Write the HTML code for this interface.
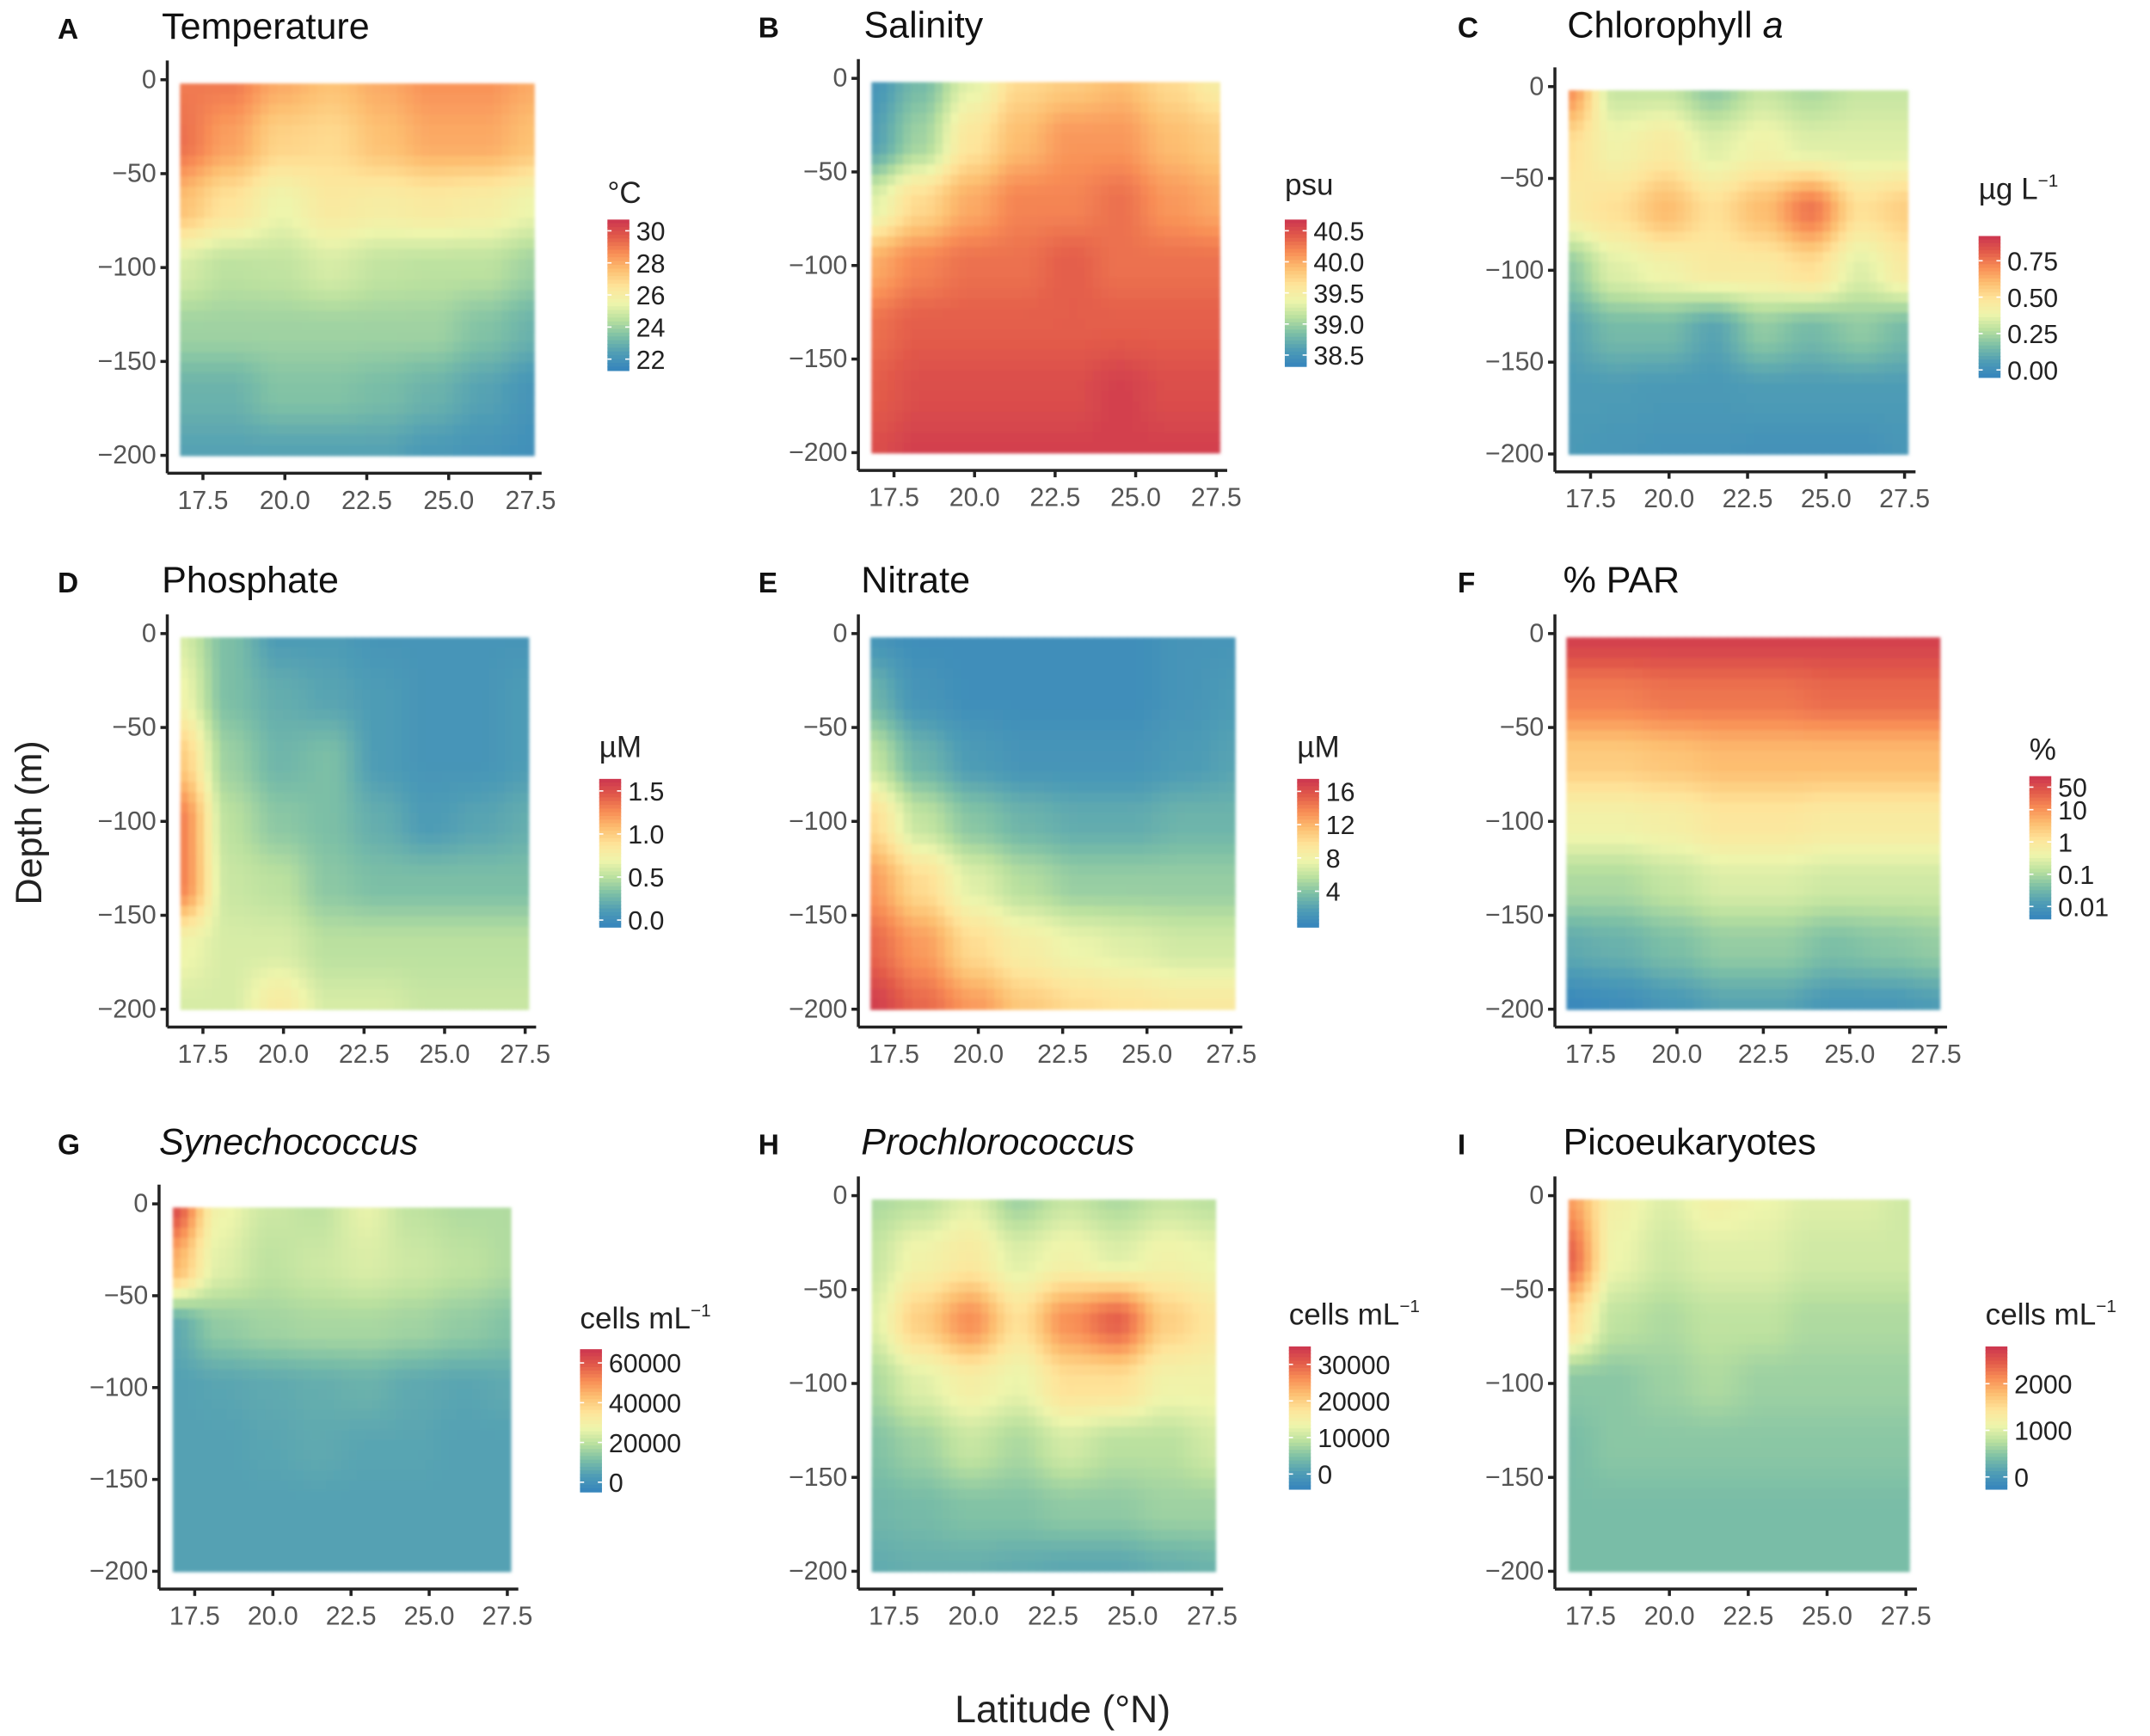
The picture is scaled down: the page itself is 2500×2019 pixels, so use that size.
<!DOCTYPE html>
<html><head><meta charset="utf-8"><style>
html,body{margin:0;padding:0;background:#fff}
svg{display:block}
text{font-family:"Liberation Sans",Arial,sans-serif}
</style></head><body>
<svg id="fig" width="2500" height="2019" viewBox="0 0 1568 1266" xmlns="http://www.w3.org/2000/svg">
<defs><filter id="blur" x="-5%" y="-5%" width="110%" height="110%"><feGaussianBlur stdDeviation="1.2"/></filter></defs>
<text x="30" y="600" font-size="27" fill="#222" text-anchor="middle" transform="rotate(-90 30 600)">Depth (m)</text>
<text x="775" y="1256" font-size="28" fill="#222" text-anchor="middle">Latitude (°N)</text>
</svg>
<script>
// shared grid
const lats = [16.8,18.3,19.9,21.4,23.0,24.5,26.1,27.6];
const depths = [0,-33,-67,-100,-133,-167,-200];
const latTicks = [17.5,20.0,22.5,25.0,27.5];
const depthTicks = [0,-50,-100,-150,-200];

const tempVals = [
[29,29,28,27.5,28,28.5,28.5,28],
[29.2,28.2,27,26.8,27.5,28,28,27.5],
[27.5,26.5,25.5,26.2,26,26.2,26,25.5],
[25,24.5,24.6,25,24.6,24.5,24.5,24],
[24,24,24,24,24,24,23.5,23],
[23,23,23.5,23.5,23.3,23,22.5,22],
[22.5,22.5,22.5,22.5,22.5,22.2,22,21.8]];
const salVals = [
[38.5,38.8,39.3,39.7,39.8,39.9,39.7,39.5],
[38.6,39.0,39.6,39.9,40.1,40.1,39.9,39.8],
[39.3,39.7,40.0,40.2,40.2,40.3,40.1,40.0],
[40.0,40.2,40.3,40.3,40.4,40.3,40.3,40.3],
[40.3,40.4,40.4,40.4,40.4,40.4,40.4,40.4],
[40.4,40.5,40.5,40.5,40.5,40.6,40.5,40.5],
[40.5,40.6,40.6,40.6,40.6,40.6,40.6,40.6]];
const chlVals = [
[0.7,0.3,0.3,0.2,0.3,0.25,0.3,0.3],
[0.5,0.4,0.45,0.35,0.4,0.35,0.35,0.35],
[0.45,0.5,0.6,0.5,0.6,0.75,0.5,0.55],
[0.2,0.35,0.4,0.45,0.45,0.5,0.35,0.45],
[0.08,0.15,0.15,0.08,0.2,0.15,0.2,0.15],
[0.05,0.05,0.04,0.04,0.05,0.05,0.05,0.05],
[0.04,0.03,0.02,0.02,0.01,0.01,0.01,0.03]];
const phoVals = [
[0.6,0.3,0.1,0.1,0.05,0.05,0.05,0.05],
[0.7,0.3,0.2,0.15,0.1,0.05,0.05,0.1],
[1.0,0.4,0.25,0.3,0.1,0.05,0.05,0.1],
[1.3,0.5,0.35,0.3,0.2,0.1,0.15,0.2],
[1.3,0.55,0.5,0.35,0.3,0.3,0.3,0.3],
[0.7,0.6,0.6,0.5,0.5,0.5,0.5,0.5],
[0.6,0.6,0.8,0.6,0.6,0.55,0.55,0.55]];
const nitVals = [
[1,0.5,0.5,0.5,0.5,0.5,1,1],
[3,1,0.5,0.5,0.5,0.5,1,1.5],
[6,3,1.5,1,1,1,1.5,2],
[10,6,4,3,2.5,2.5,3,3],
[13,10,7,5.5,4.5,4.5,4.5,4.5],
[15,13,10,8.5,7.5,7,6.5,6.5],
[17,15,13,11,10,9.5,9,9]];
const parVals = [ // log10 %PAR
[1.9,1.9,1.9,1.9,1.9,1.9,1.9,1.9],
[1.2,1.2,1.3,1.3,1.3,1.4,1.4,1.4],
[0.4,0.4,0.5,0.6,0.6,0.6,0.6,0.6],
[-0.3,-0.3,-0.2,0,0,-0.1,-0.1,-0.1],
[-1.0,-1.0,-0.8,-0.6,-0.6,-0.7,-0.7,-0.7],
[-1.7,-1.6,-1.4,-1.2,-1.2,-1.4,-1.3,-1.2],
[-2.3,-2.2,-2.0,-1.8,-1.8,-2.0,-2.0,-1.9]];
const synVals = [
[62000,28000,22000,20000,26000,20000,18000,18000],
[45000,25000,20000,22000,24000,22000,20000,18000],
[6000,14000,16000,17000,17000,16000,14000,12000],
[4000,5000,6000,7000,8000,6000,5000,6000],
[4000,4000,5000,6000,5000,5000,4000,4000],
[4000,4000,4000,4000,4000,4000,4000,4000],
[4000,4000,4000,4000,4000,4000,4000,4000]];
const proVals = [
[8000,9000,12000,7000,10000,8000,10000,9000],
[10000,14000,16000,12000,14000,12000,14000,13000],
[12000,20000,26000,18000,26000,30000,20000,17000],
[8000,12000,15000,13000,18000,18000,14000,14000],
[5000,7000,10000,8000,11000,9000,9000,11000],
[3500,4000,5000,5000,6000,6000,7000,7000],
[2000,2500,2500,2000,1500,1500,2500,3000]];
const picoVals = [
[2000,1200,1000,1200,1100,1000,1000,900],
[2400,1100,900,1000,1000,900,900,900],
[1500,800,700,800,800,700,700,700],
[500,500,600,700,600,600,600,600],
[400,500,500,500,500,500,500,500],
[400,400,400,400,400,400,400,400],
[400,400,400,400,400,400,400,400]];

const tempTicks=[30,28,26,24,22], salTicks=[40.5,40.0,39.5,39.0,38.5], chlTicks=[0.75,0.5,0.25,0];
const phoTicks=[1.5,1.0,0.5,0.0], nitTicks=[16,12,8,4], parTicks=[1.7,1,0,-1,-2], parTickLabels=["50","10","1","0.1","0.01"];
const synTicks=[60000,40000,20000,0], proTicks=[30000,20000,10000,0], picoTicks=[2000,1000,0];

const panels=[
{id:"temperature",letter:"A",title:"Temperature",lx:42,tx:118,ty:28,x0:148,x1:387,y0:58,y1:332,vals:tempVals,vmin:21.3,vmax:30.7,leg:"°C",legx:443,legy:148,bt:160,bb:270,ticks:tempTicks,fmt:v=>String(v)},
{id:"salinity",letter:"B",title:"Salinity",lx:553,tx:630,ty:27,x0:652,x1:887,y0:57,y1:330,vals:salVals,vmin:38.32,vmax:40.68,leg:"psu",legx:937,legy:142,bt:160,bb:267,ticks:salTicks,fmt:v=>v.toFixed(1)},
{id:"chlorophyll",letter:"C",title:"Chlorophyll <tspan font-style='italic'>a</tspan>",lx:1063,tx:1143,ty:27,x0:1160,x1:1389,y0:63,y1:331,vals:chlVals,vmin:-0.05,vmax:0.92,leg:"µg L<tspan font-size='13' dy='-9'>−1</tspan>",legx:1443,legy:145,bt:172,bb:275,ticks:chlTicks,fmt:v=>v.toFixed(2)},
{id:"phosphate",letter:"D",title:"Phosphate",lx:42,tx:118,ty:432,x0:148,x1:383,y0:462,y1:736,vals:phoVals,vmin:-0.08,vmax:1.64,leg:"µM",legx:437,legy:552,bt:568,bb:676,ticks:phoTicks,fmt:v=>v.toFixed(1)},
{id:"nitrate",letter:"E",title:"Nitrate",lx:553,tx:628,ty:432,x0:652,x1:898,y0:462,y1:736,vals:nitVals,vmin:-0.3,vmax:17.5,leg:"µM",legx:946,legy:552,bt:568,bb:676,ticks:nitTicks,fmt:v=>String(v)},
{id:"par",letter:"F",title:"% PAR",lx:1063,tx:1140,ty:432,x0:1160,x1:1412,y0:462,y1:736,vals:parVals,vmin:-2.38,vmax:2.04,leg:"%",legx:1480,legy:554,bt:566,bb:670,ticks:parTicks,labels:parTickLabels},
{id:"synechococcus",letter:"G",title:"<tspan font-style='italic'>Synechococcus</tspan>",lx:42,tx:116,ty:842,x0:142,x1:370,y0:878,y1:1146,vals:synVals,vmin:-4800,vmax:66900,leg:"cells mL<tspan font-size='13' dy='-9'>−1</tspan>",legx:423,legy:969,bt:984,bb:1088,ticks:synTicks,fmt:v=>String(v)},
{id:"prochlorococcus",letter:"H",title:"<tspan font-style='italic'>Prochlorococcus</tspan>",lx:553,tx:628,ty:842,x0:652,x1:884,y0:872,y1:1146,vals:proVals,vmin:-4100,vmax:34900,leg:"cells mL<tspan font-size='13' dy='-9'>−1</tspan>",legx:940,legy:966,bt:982,bb:1086,ticks:proTicks,fmt:v=>String(v)},
{id:"picoeukaryotes",letter:"I",title:"Picoeukaryotes",lx:1063,tx:1140,ty:842,x0:1160,x1:1390,y0:872,y1:1146,vals:picoVals,vmin:-260,vmax:2800,leg:"cells mL<tspan font-size='13' dy='-9'>−1</tspan>",legx:1448,legy:966,bt:982,bb:1086,ticks:picoTicks,fmt:v=>String(v)}
];

const pal=["#3584bd","#4f9db5","#7cbfa6","#b9e09f","#eef5ac","#fee49a","#fdbf71","#f88d55","#e25a4a","#cc3550"];
function hex(h){return [parseInt(h.slice(1,3),16),parseInt(h.slice(3,5),16),parseInt(h.slice(5,7),16)];}
const palRGB=pal.map(hex);
function cmap(t){t=Math.max(0,Math.min(1,t));const s=t*(pal.length-1);const i=Math.min(pal.length-2,Math.floor(s));const f=s-i;
const a=palRGB[i],b=palRGB[i+1];return "rgb("+a.map((v,k)=>Math.round(v+(b[k]-v)*f)).join(",")+")";}
function interp(vals,lat,dep){
 let i=0;while(i<lats.length-2&&lat>lats[i+1])i++;
 let j=0;while(j<depths.length-2&&dep<depths[j+1])j++;
 let fx=(lat-lats[i])/(lats[i+1]-lats[i]);fx=Math.max(0,Math.min(1,fx));
 let fy=(dep-depths[j])/(depths[j+1]-depths[j]);fy=Math.max(0,Math.min(1,fy));
 fx=fx*fx*(3-2*fx);fy=fy*fy*(3-2*fy);
 const a=vals[j][i],b=vals[j][i+1],c=vals[j+1][i],d=vals[j+1][i+1];
 return a*(1-fx)*(1-fy)+b*fx*(1-fy)+c*(1-fx)*fy+d*fx*fy;}
const NS="http://www.w3.org/2000/svg";
const svg=document.getElementById("fig");
function mk(tag,attrs,parent){const e=document.createElementNS(NS,tag);for(const k in attrs)e.setAttribute(k,attrs[k]);(parent||svg).appendChild(e);return e;}

panels.forEach(p=>{
 const g=mk("g",{});
 
 
 const xs=lat=>p.x0+(lat-17.5)*(p.x1-p.x0)/10;
 const ys=d=>p.y0+(d/-200)*(p.y1-p.y0);
 const lt=mk("text",{x:p.lx,y:p.ty,"font-size":21,"font-weight":"bold",fill:"#111"},g);lt.textContent=p.letter;
 
 
 const tt=mk("text",{x:p.tx,y:p.ty,"font-size":27,fill:"#111"},g);tt.innerHTML=p.title;
 
 
 const hm=mk("g",{filter:"url(#blur)"},g);
 
 
 const NX=44,NY=36,la0=lats[0],la1=lats[lats.length-1];
 const cw=(xs(la1)-xs(la0))/NX,ch=(ys(-200)-ys(-2))/NY;
 for(let a=0;a<NX;a++)for(let b=0;b<NY;b++){
  const lat=la0+(a+0.5)*(la1-la0)/NX, dep=-2-(b+0.5)*198/NY;
  const v=interp(p.vals,lat,dep);
  const r=mk("rect",{x:(xs(la0)+a*cw).toFixed(2),y:(ys(-2)+b*ch).toFixed(2),width:(cw+0.6).toFixed(2),height:(ch+0.6).toFixed(2),fill:cmap((v-p.vmin)/(p.vmax-p.vmin))},hm);
  
  
 }
 const ax=p.x0-26, by=p.y1+13;
 const axes=mk("g",{stroke:"#222","stroke-width":2.2,fill:"none"},g);
 
 
 mk("line",{x1:ax,y1:p.y0-14,x2:ax,y2:by},axes);
 mk("line",{x1:ax,y1:by,x2:p.x1+8,y2:by},axes);
 depthTicks.forEach(d=>{mk("line",{x1:ax-5,y1:ys(d),x2:ax,y2:ys(d)},axes);
  const t=mk("text",{x:ax-8,y:ys(d)+6,"font-size":19,fill:"#555","text-anchor":"end"},g);t.textContent=d===0?"0":"−"+(-d);
  
  });
 latTicks.forEach(l=>{mk("line",{x1:xs(l),y1:by,x2:xs(l),y2:by+5},axes);
  const t=mk("text",{x:xs(l),y:by+26,"font-size":19,fill:"#555","text-anchor":"middle"},g);t.textContent=l.toFixed(1);
  
  });
 const lg=mk("g",{},g);
 
 
 const lti=mk("text",{x:p.legx,y:p.legy,"font-size":22,fill:"#222"},lg);lti.innerHTML=p.leg;
 
 
 const N=40,bh=(p.bb-p.bt)/N;
 for(let k=0;k<N;k++){const r=mk("rect",{x:p.legx,y:(p.bt+k*bh).toFixed(2),width:16,height:(bh+0.5).toFixed(2),fill:cmap(1-(k+0.5)/N)},lg);
  
  }
 const vy=v=>p.bb-(v-p.vmin)/(p.vmax-p.vmin)*(p.bb-p.bt);
 p.ticks.forEach((v,k)=>{
  mk("line",{x1:p.legx,x2:p.legx+3,y1:vy(v),y2:vy(v),stroke:"#fff","stroke-width":1},lg);
  mk("line",{x1:p.legx+13,x2:p.legx+16,y1:vy(v),y2:vy(v),stroke:"#fff","stroke-width":1},lg);
  const t=mk("text",{x:p.legx+21,y:vy(v)+7,"font-size":19,fill:"#222"},lg);t.textContent=p.labels?p.labels[k]:p.fmt(v);
  
  });
});
</script>
</body></html>
